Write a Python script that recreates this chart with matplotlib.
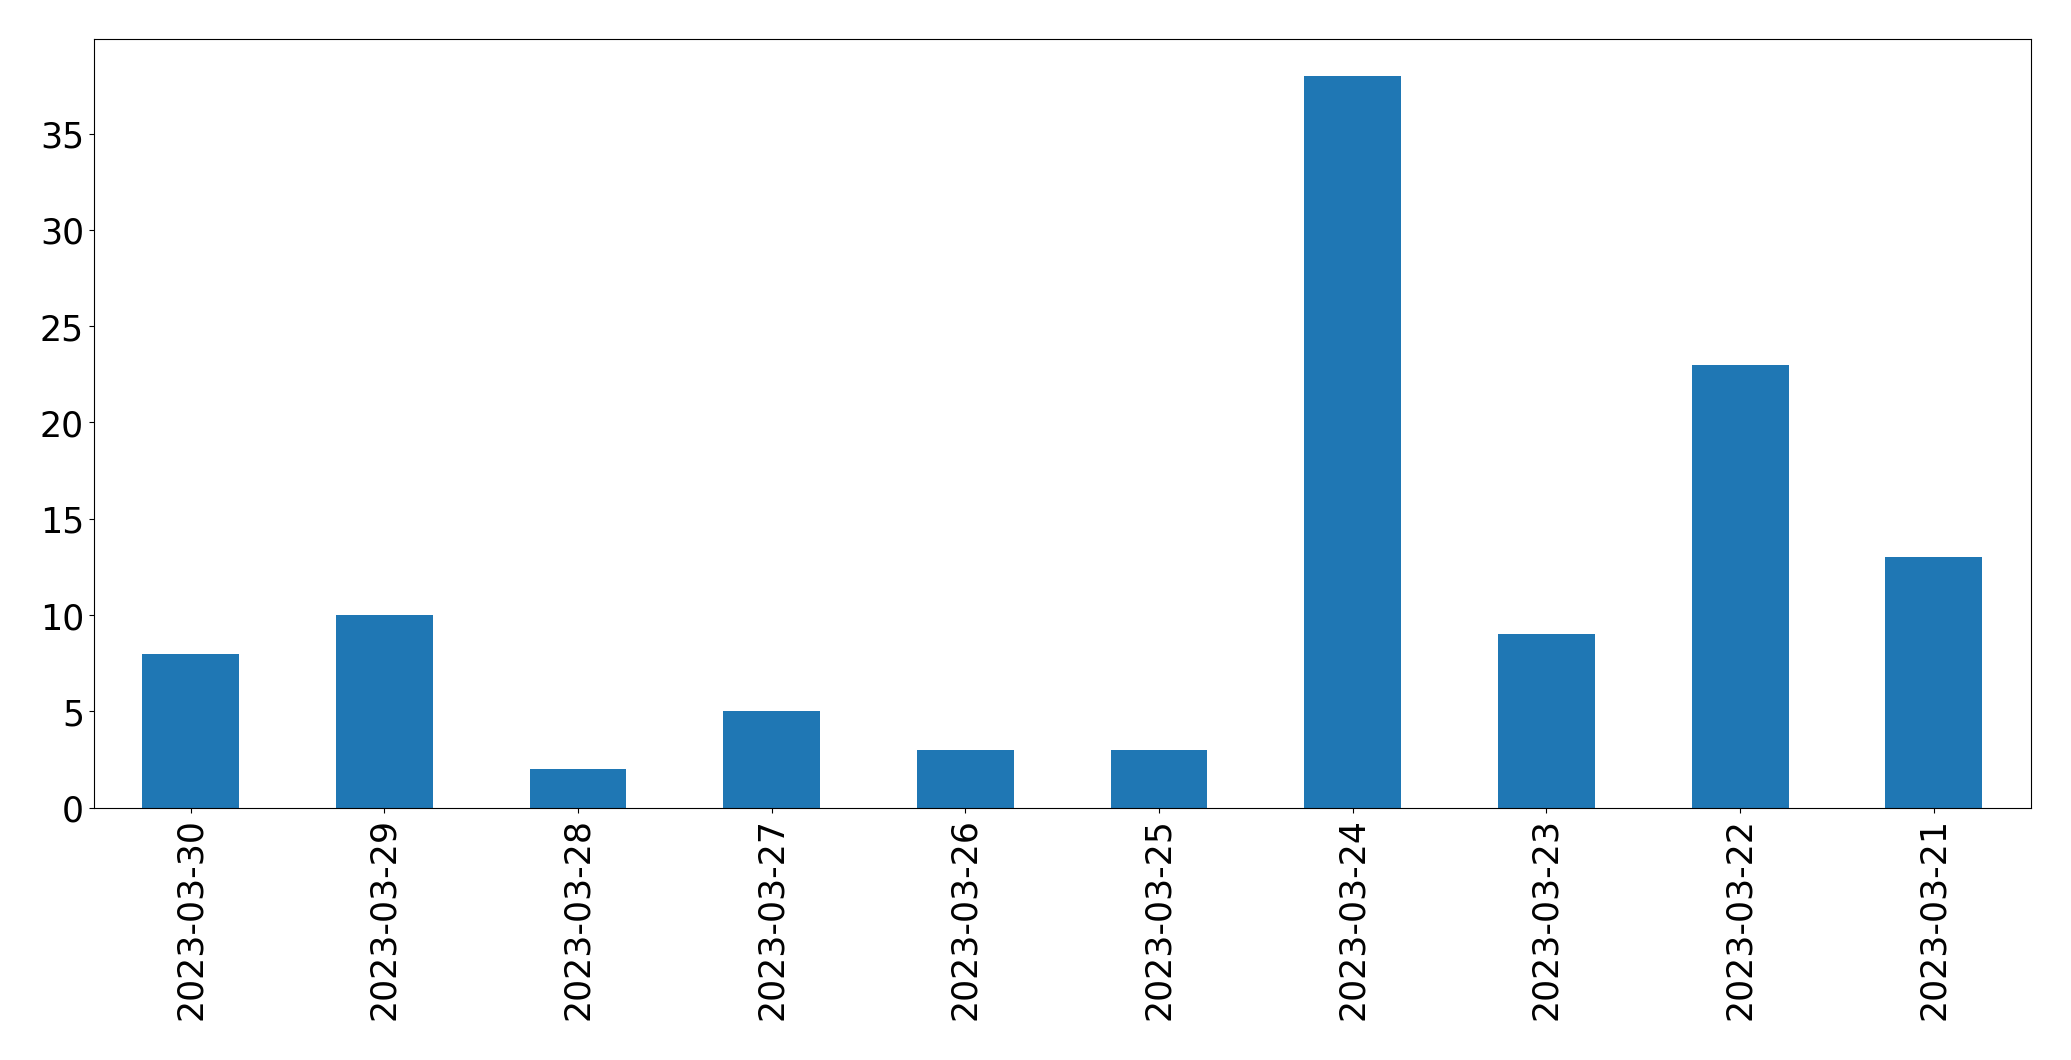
import matplotlib
matplotlib.use("Agg")
import matplotlib.pyplot as plt
import pandas as pd

dates = ['2023-03-30', '2023-03-29', '2023-03-28', '2023-03-27', '2023-03-26',
         '2023-03-25', '2023-03-24', '2023-03-23', '2023-03-22', '2023-03-21']
counts = [8, 10, 2, 5, 3, 3, 38, 9, 23, 13]

s = pd.Series(counts, index=dates)

fig, ax = plt.subplots(figsize=(20.71, 10.605), dpi=100)
s.plot(kind='bar', ax=ax, color='#1f77b4', fontsize=25)
ax.set_xlabel('')
plt.subplots_adjust(left=0.0453, right=0.9805, top=0.9626, bottom=0.238)

plt.savefig('out.png')
